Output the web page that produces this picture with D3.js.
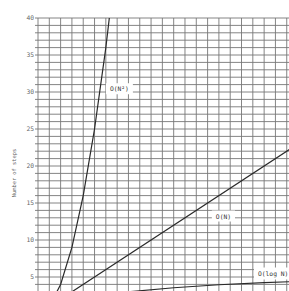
<!DOCTYPE html>
<html>
<head>
<meta charset="utf-8">
<script src="https://cdn.jsdelivr.net/npm/d3@7"></script>
<style>
  body { margin: 0; background: #fff; }
  svg { display: block; }
</style>
</head>
<body>
<svg id="chart" width="289" height="291"></svg>
<script>
// values
var yTicks = [5, 10, 15, 20, 25, 30, 35, 40];
var quadN = [0, 1, 2, 3, 4, 5, 6, 7];
var quadSteps = [0, 1, 4, 9, 16, 25, 36, 49];
var linN = [0, 25];
var linSteps = [0, 25];
var logN = [1, 2, 4, 8, 12, 16, 20, 23];
var logSteps = [0, 1, 2, 3, 3.55, 3.95, 4.25, 4.4];
var seriesLabels = ['O(N\u00b2)', 'O(N)', 'O(log N)'];

var svg = d3.select('#chart');
var W = 289, H = 291;
var marginLeft = 38, marginTop = 18;

var x = d3.scaleLinear().domain([0, 22.2]).range([marginLeft, W]);
var y = d3.scaleLinear().domain([0, 40]).range([marginTop + 40 * 7.4, marginTop]);

var grid = svg.append('g').attr('stroke', '#777').attr('stroke-width', 0.9);
// vertical grid lines, one per N
grid.selectAll('line.v').data(d3.range(0, 23)).enter().append('line')
  .attr('x1', function(d){ return x(d); })
  .attr('x2', function(d){ return x(d); })
  .attr('y1', y(40)).attr('y2', y(0));
// horizontal grid lines, one per step
grid.selectAll('line.h').data(d3.range(0, 41)).enter().append('line')
  .attr('y1', function(d){ return y(d); })
  .attr('y2', function(d){ return y(d); })
  .attr('x1', x(0) - 3).attr('x2', W);

// y tick labels
svg.append('g').selectAll('text').data(yTicks).enter().append('text')
  .attr('x', marginLeft - 4)
  .attr('y', function(d){ return y(d); })
  .attr('dy', '0.35em')
  .attr('text-anchor', 'end')
  .attr('font-family', 'DejaVu Sans Mono, monospace')
  .attr('font-size', 6.3)
  .attr('fill', '#666')
  .text(function(d){ return d; });

svg.append('text')
  .attr('transform', 'translate(16,' + 173 + ') rotate(-90)')
  .attr('text-anchor', 'middle')
  .attr('font-family', 'DejaVu Sans Mono, monospace')
  .attr('font-size', 5.4)
  .attr('fill', '#666')
  .text('Number of steps');

// curves
svg.append('defs').append('clipPath').attr('id', 'plot')
  .append('rect').attr('x', marginLeft).attr('y', marginTop).attr('width', W - marginLeft).attr('height', H - marginTop);

var line = d3.line()
  .x(function(d){ return x(d[0]); })
  .y(function(d){ return y(d[1]); });

var series = [
  d3.zip(quadN, quadSteps),
  d3.zip(linN, linSteps),
  d3.zip(logN, logSteps)
];

svg.append('g').attr('clip-path', 'url(#plot)')
  .selectAll('path').data(series).enter().append('path')
  .attr('d', line)
  .attr('fill', 'none')
  .attr('stroke', '#2a2a2a')
  .attr('stroke-width', 1.2);

// labels on white boxes
var labelPos = [[7.2, 30.4], [16.4, 13.2], [20.8, 5.5]];
var lab = svg.append('g').selectAll('g').data(seriesLabels).enter().append('g')
  .attr('transform', function(d, i){ return 'translate(' + x(labelPos[i][0]) + ',' + y(labelPos[i][1]) + ')'; });
lab.append('text')
  .attr('text-anchor', 'middle')
  .attr('dy', '0.35em')
  .attr('font-family', 'DejaVu Sans Mono, monospace')
  .attr('font-size', 6.3)
  .attr('fill', '#333')
  .text(function(d){ return d; });
lab.each(function(){
  var g = d3.select(this);
  var b = g.select('text').node().getBBox();
  g.insert('rect', 'text')
    .attr('x', b.x - 4).attr('y', b.y - 2)
    .attr('width', b.width + 8).attr('height', b.height + 4)
    .attr('fill', '#fff');
});
</script>
</body>
</html>
